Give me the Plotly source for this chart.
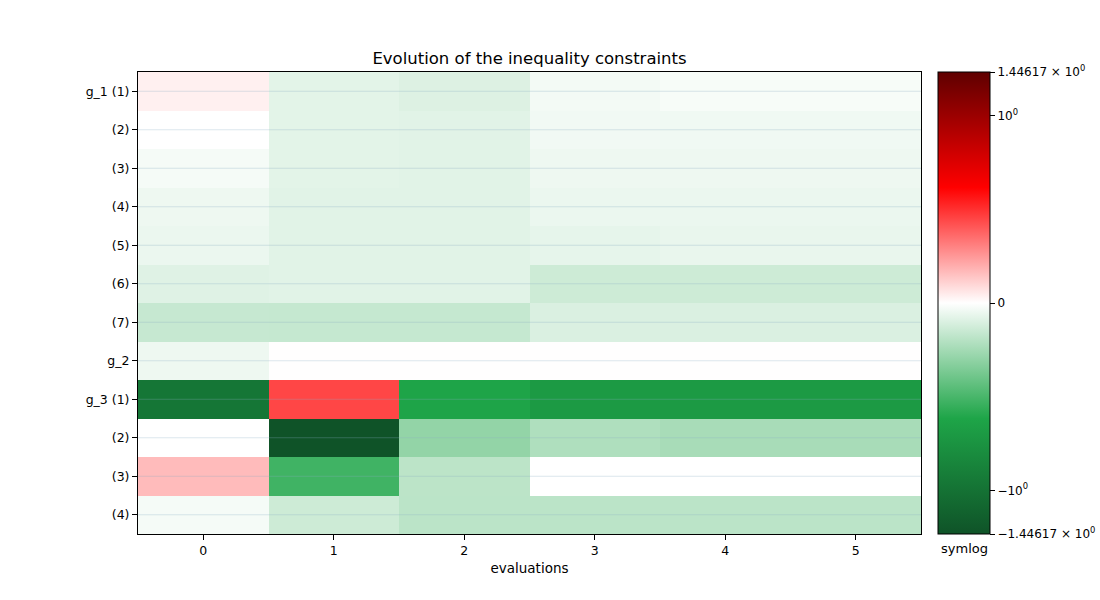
import numpy as np
import plotly.graph_objects as go

evaluations = [0, 1, 2, 3, 4, 5]
row_labels = ["g_1 (1)", "(2)", "(3)", "(4)", "(5)", "(6)", "(7)",
              "g_2", "g_3 (1)", "(2)", "(3)", "(4)"]

g1_1 = [0.036, -0.077, -0.093, -0.033, -0.022, -0.022]
g1_2 = [-0.001, -0.077, -0.082, -0.038, -0.040, -0.040]
g1_3 = [-0.027, -0.077, -0.082, -0.047, -0.047, -0.047]
g1_4 = [-0.047, -0.082, -0.082, -0.055, -0.055, -0.055]
g1_5 = [-0.055, -0.082, -0.082, -0.068, -0.060, -0.060]
g1_6 = [-0.088, -0.082, -0.082, -0.137, -0.137, -0.137]
g1_7 = [-0.156, -0.158, -0.158, -0.101, -0.101, -0.101]
g2 = [-0.047, 0.003, 0.003, 0.003, 0.003, 0.003]
g3_1 = [-0.969, 0.447, -0.624, -0.699, -0.699, -0.699]
g3_2 = [-0.001, -1.44617, -0.296, -0.219, -0.238, -0.238]
g3_3 = [0.164, -0.523, -0.184, -0.001, -0.001, -0.001]
g3_4 = [-0.027, -0.137, -0.186, -0.186, -0.186, -0.186]

vmax = 1.44617
cbar_ticks = [-vmax, -1.0, 0.0, 1.0, vmax]
cbar_text = ["−1.44617 × 10<sup>0</sup>", "−10<sup>0</sup>", "0",
             "10<sup>0</sup>", "1.44617 × 10<sup>0</sup>"]

values = np.array([g1_1, g1_2, g1_3, g1_4, g1_5, g1_6, g1_7,
                   g2, g3_1, g3_2, g3_3, g3_4])

LINSCALE = 1.0 / (1.0 - 1.0 / np.e)


def symlog(x):
    x = np.asarray(x, dtype=float)
    a = np.abs(x)
    out = np.where(a <= 1.0, x * LINSCALE,
                   np.sign(x) * (LINSCALE + np.log(np.maximum(a, 1e-12))))
    return out


z = symlog(values)
zmax = float(symlog(vmax))

colorscale = [
    [0.0, "rgb(15,83,40)"],
    [0.25, "rgb(30,165,72)"],
    [0.5, "rgb(255,255,255)"],
    [0.75, "rgb(255,0,0)"],
    [1.0, "rgb(95,0,0)"],
]

L, R, T, B = 138, 921, 72, 534
W, H = 1100, 600
row_pos = list(range(len(row_labels)))

fig = go.Figure(go.Heatmap(
    z=z,
    x=evaluations,
    y=row_pos,
    colorscale=colorscale,
    zmin=-zmax, zmax=zmax,
    hoverinfo="skip",
    colorbar=dict(
        x=(938 - L) / (R - L), xanchor="left", xref="paper",
        y=0.5, yanchor="middle", len=1.0, lenmode="fraction",
        thickness=52, thicknessmode="pixels",
        outlinewidth=1, outlinecolor="black",
        tickmode="array",
        tickvals=[float(v) for v in symlog(cbar_ticks)],
        ticktext=cbar_text,
        ticks="outside", ticklen=5, tickcolor="black",
        tickfont=dict(size=12, color="black"),
        xpad=0, ypad=0,
    ),
))

# faint horizontal grid lines drawn over the cells at each row tick
for yv in row_pos:
    fig.add_hline(y=yv, line=dict(color="rgba(140,175,195,0.3)", width=1),
                  layer="above")

fig.add_annotation(
    text="symlog", xref="paper", yref="paper",
    x=(964 - L) / (R - L), y=-5 / (B - T),
    xanchor="center", yanchor="top", showarrow=False,
    font=dict(size=13, color="black"),
)

fig.update_layout(
    width=W, height=H,
    margin=dict(l=L, r=W - R, t=T, b=H - B, autoexpand=False),
    paper_bgcolor="white", plot_bgcolor="white",
    font=dict(family="DejaVu Sans", size=13, color="black"),
    title=dict(text="Evolution of the inequality constraints",
               x=(L + R) / 2 / W, xanchor="center",
               y=1 - 58 / H, yanchor="middle",
               font=dict(size=16.5, color="black")),
    xaxis=dict(
        tickmode="array", tickvals=evaluations,
        ticktext=[str(v) for v in evaluations],
        range=[-0.5, 5.5],
        showgrid=False, zeroline=False,
        showline=True, mirror=True, linecolor="black", linewidth=1,
        ticks="outside", ticklen=5, tickcolor="black",
        tickfont=dict(size=12.5),
        title=dict(text="evaluations", font=dict(size=13.5), standoff=6),
    ),
    yaxis=dict(
        tickmode="array", tickvals=row_pos,
        ticktext=row_labels,
        range=[len(row_labels) - 0.5, -0.5],
        showgrid=False,
        zeroline=False,
        showline=True, mirror=True, linecolor="black", linewidth=1,
        ticks="outside", ticklen=5, tickcolor="black",
        tickfont=dict(size=12.5),
        layer="above traces",
    ),
)

fig.write_html("out.html")
